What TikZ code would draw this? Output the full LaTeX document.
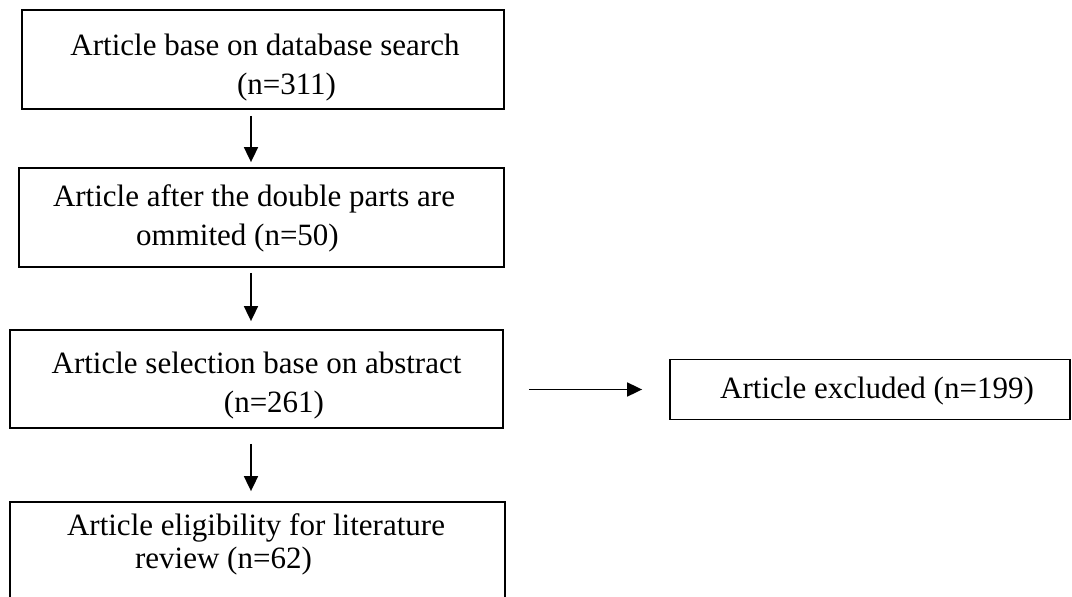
\documentclass[tikz,border=0pt]{standalone}
\usepackage{fontspec}
\setmainfont{Liberation Serif}
\usetikzlibrary{arrows.meta}
\begin{document}
\begin{tikzpicture}[x=1pt,y=-1pt,
  stepbox/.style={draw=black, line width=1.8pt, rectangle, inner sep=0pt},
  txt/.style={anchor=base, inner sep=0pt, font=\fontsize{31}{37}\selectfont},
  arr/.style={line width=1.8pt, -{Triangle[length=15pt,width=14pt]}}]
\useasboundingbox (0,0) rectangle (1072,597);

% boxes
\node[stepbox, minimum width=482pt, minimum height=99pt] (b1) at (263,59.5) {};
\node[stepbox, minimum width=485pt, minimum height=99pt] (b2) at (261.5,217.5) {};
\node[stepbox, minimum width=493pt, minimum height=98pt] (b3) at (256.5,379) {};
\node[stepbox, minimum width=400pt, minimum height=60pt] (b4) at (870,389.5) {};
\node[stepbox, minimum width=495pt, minimum height=118pt] (b5) at (257.5,561) {};

% box texts
\node[txt] (t1a) at (265,55)    {Article base on database search};
\node[txt] (t1b) at (286.5,94)  {(n=311)};
\node[txt] (t2a) at (254,206)   {Article after the double parts are};
\node[txt] (t2b) at (237.5,245) {ommited (n=50)};
\node[txt] (t3a) at (256.5,373) {Article selection base on abstract};
\node[txt] (t3b) at (274,412)   {(n=261)};
\node[txt] (t4)  at (877,398)   {Article excluded (n=199)};
\node[txt] (t5a) at (256,535)   {Article eligibility for literature};
\node[txt] (t5b) at (223.5,568) {review (n=62)};

% connectors
\coordinate (ax) at (251,0);
\draw[arr, shorten <=6pt, shorten >=5pt] (b1.south -| ax) -- (b2.north -| ax);
\draw[arr, shorten <=5pt, shorten >=8pt] (b2.south -| ax) -- (b3.north -| ax);
\draw[arr, shorten <=15pt, shorten >=10pt] (b3.south -| ax) -- (b5.north -| ax);
\draw[arr, shorten <=25pt, shorten >=27pt] (b3.east |- b4.west) -- (b4.west);
\end{tikzpicture}
\end{document}
